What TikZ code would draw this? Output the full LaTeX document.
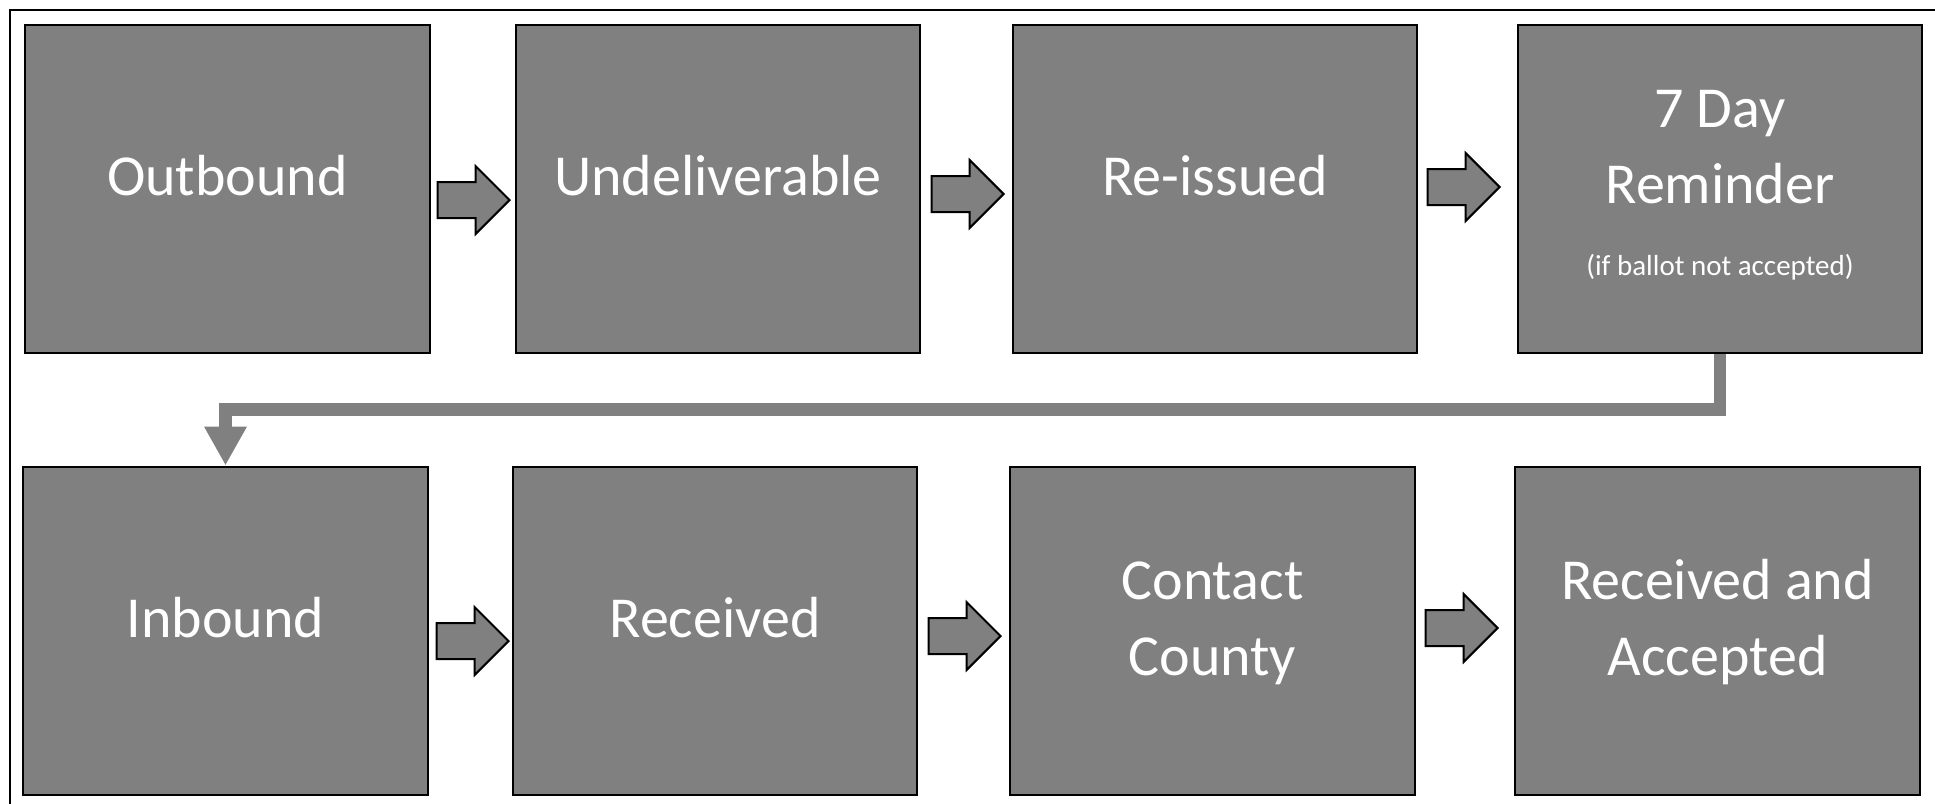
\documentclass[tikz,border=0pt]{standalone}
\usepackage{fontspec}
\setmainfont{Carlito}
\usetikzlibrary{shapes.arrows,arrows.meta,calc}
\definecolor{stagegray}{RGB}{128,128,128}
\tikzset{
  stage/.style={draw=black,fill=stagegray,line width=1pt,minimum width=202.25pt,
    minimum height=164pt,inner sep=0pt,text=white,align=center,
    font=\fontsize{29pt}{38pt}\selectfont},
  oneline/.style={text height=22.25pt,text depth=15.75pt},
  twoline/.style={text height=60.25pt,text depth=15.75pt},
  blockarr/.style={single arrow,draw=black,fill=stagegray,line width=1pt,
    single arrow head extend=8pt,single arrow tip angle=90,inner xsep=0pt,
    inner ysep=8.5pt,minimum height=36pt,anchor=tip},
  flowline/.style={draw=stagegray,line width=6.2pt,-{Triangle[width=20pt,length=19.5pt]}}
}
\begin{document}
\begin{tikzpicture}[x=0.5pt,y=-0.5pt,line join=miter]
  \useasboundingbox (0,0) rectangle (1935,804);
  \draw[line width=1.25pt] (1935,10) -- (10,10) -- (10,804);
  % top row
  \node[stage,oneline] (outbound) at (227.5,188.5) {Outbound};
  \node[stage,oneline] (undeliv) at (718,188.5) {Undeliverable};
  \node[stage,oneline] (reissued) at (1215,188.5) {Re-issued};
  \node[stage,text height=96.25pt,text depth=9.75pt] (seven) at (1720,188.5)
    {7 Day\\Reminder\\[-2pt]{\fontsize{14.5pt}{38pt}\selectfont(if ballot not accepted)}};
  \node[blockarr] (a1) at (511,200) {};
  \node[blockarr] (a2) at (1005,194) {};
  \node[blockarr] (a3) at (1501,187) {};
  % bottom row
  \node[stage,oneline] (inbound) at (225.5,630.5) {Inbound};
  \node[stage,oneline] (received) at (715,630.5) {Received};
  \node[stage,twoline] (county) at (1212.5,630.5) {Contact\\County};
  \node[stage,twoline] (accepted) at (1717.5,630.5) {Received and\\Accepted};
  \node[blockarr] (a4) at (510,641) {};
  \node[blockarr] (a5) at (1002,636) {};
  \node[blockarr] (a6) at (1499,628) {};
  % back to the second row
  \draw[flowline] (seven.south) |- ($(seven.south)!0.5!(inbound.north)$) -| (inbound.north);
\end{tikzpicture}
\end{document}
